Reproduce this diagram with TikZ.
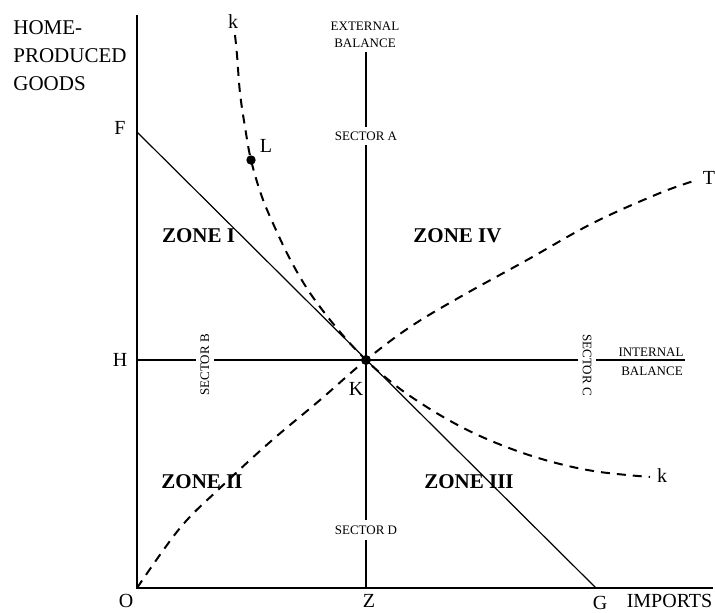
\documentclass[tikz,border=0pt]{standalone}
\usepackage{fontspec}
\setmainfont{Liberation Serif}
\begin{document}
\begin{tikzpicture}[x=0.5pt,y=-0.5pt,
  lab/.style={font=\fontsize{10}{12}\selectfont, inner sep=0pt},
  big/.style={font=\fontsize{10.5}{12}\selectfont, inner sep=0pt, anchor=west},
  zone/.style={font=\fontsize{10.5}{12}\selectfont\bfseries, inner sep=0pt},
  small/.style={font=\fontsize{6.5}{8.5}\selectfont, inner sep=0pt},
  gap/.style={small, fill=white, inner xsep=0.5pt, inner ysep=2.2pt},
  axisline/.style={line width=1pt},
  thinline/.style={line width=0.6pt},
  curve/.style={line width=1pt, dash pattern=on 4.5pt off 3.5pt},
  dot/.style={circle, fill=black, inner sep=0pt, minimum size=5pt}]
\useasboundingbox (0,0) rectangle (715,612);
% coordinates
\coordinate (O) at (137,588);
\coordinate (Ytop) at (137,15);
\coordinate (Xend) at (713,588);
\coordinate (F) at (137,132);
\coordinate (G) at (596,588);
\coordinate (Hl) at (137,360);
\coordinate (Hr) at (685,360);
\coordinate (Et) at (366,52);
\coordinate (Zb) at (366,588);
\coordinate (Kc) at (366,360);
\coordinate (th1) at (399,360);
\coordinate (th2) at (448,360);
% axes
\draw[axisline] (Ytop) -- (O) -- (Xend);
% lines
\draw[thinline] (F) -- (G);
\draw[thinline] (Hl) -- (Hr);
\draw[thinline] (Et) -- (Zb);
\draw[line width=1pt] (th1) -- (th2);
% curves
\draw[curve] plot[smooth, tension=0.6] coordinates {(137,588) (180,528) (220,488) (270,442) (320,400) (366,360) (410,327) (460,297) (527,260) (593,223) (660,193) (697,180)};
\draw[curve] plot[smooth, tension=0.6] coordinates {(235,35) (237,55) (240,93) (245,127) (251,160) (262,197) (276,230) (291,261) (308,290) (327,316) (347,340) (366,360) (385,377) (410,396) (445,418) (480,436) (520,452) (560,464) (600,472) (650,477)};
% dots
\node[dot] (K) at (Kc) {};
\node[dot, minimum size=4.7pt] (L) at (251,160) {};
% labels
\node[big] (home1) at (13,28) {HOME-};
\node[big] (home2) at (13,56) {PRODUCED};
\node[big] (home3) at (13,84) {GOODS};
\node[lab] (Flab) at (120,128) {F};
\node[lab] (Hlab) at (120,360) {H};
\node[lab] (Olab) at (126,601) {O};
\node[lab] (Zlab) at (369,601) {Z};
\node[lab] (Glab) at (600,603) {G};
\node[lab] (imp) at (669.5,601) {IMPORTS};
\node[lab] (kt) at (233,22) {k};
\node[lab] (kb) at (662,476) {k};
\node[lab] (Llab) at (266,146) {L};
\node[lab] (Tlab) at (709,178) {T};
\node[lab] (Klab) at (356,389) {K};
\node[zone] (z1) at (198.5,236) {ZONE I};
\node[zone] (z4) at (457.5,236) {ZONE IV};
\node[zone] (z2) at (202,482) {ZONE II};
\node[zone] (z3) at (469,482) {ZONE III};
\node[small, align=center] (ext) at (365,34.5) {EXTERNAL\\BALANCE};
\node[gap] (sa) at (366,136) {SECTOR A};
\node[gap, inner ysep=3pt] (sd) at (366,530) {SECTOR D};
\node[gap, rotate=90] (sb) at (205,365) {SECTOR B};
\node[gap, rotate=-90] (sc) at (587,365) {SECTOR C};
\node[small] (int) at (651,352) {INTERNAL};
\node[small] (bal) at (652,371) {BALANCE};
\end{tikzpicture}
\end{document}
